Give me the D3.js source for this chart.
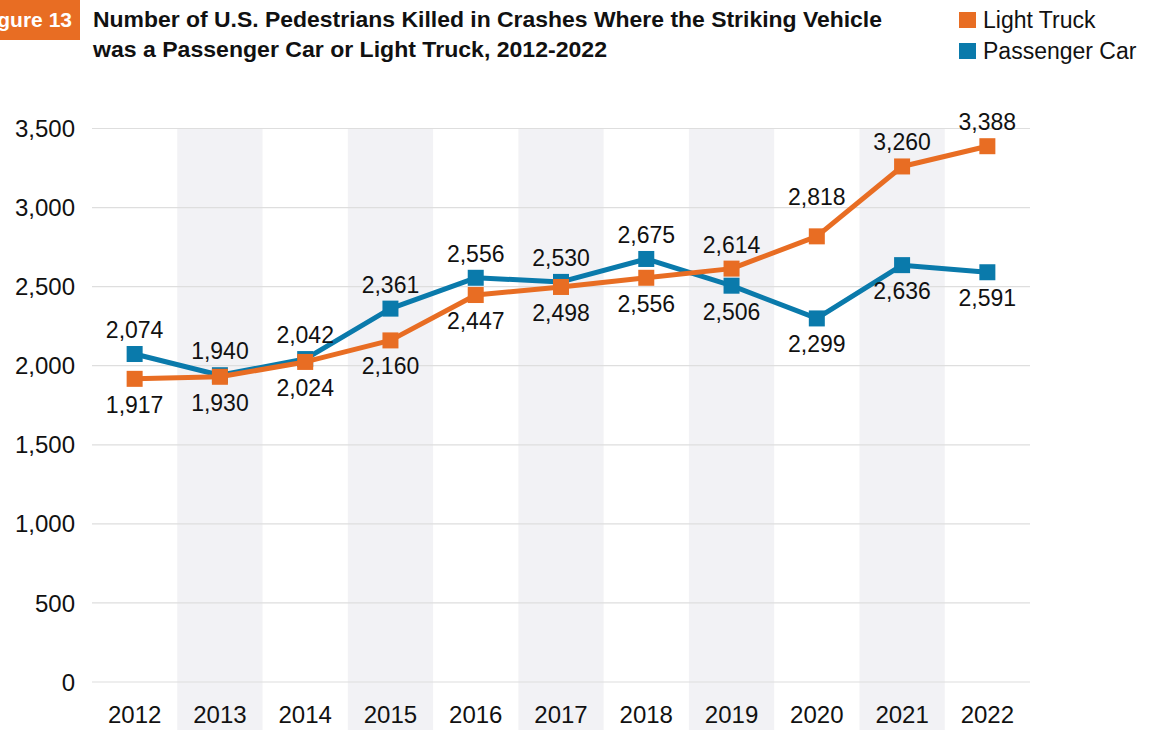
<!DOCTYPE html>
<html>
<head>
<meta charset="utf-8">
<script src="https://cdn.jsdelivr.net/npm/d3@7"></script>
<style>
  body { margin: 0; background: #fff; }
  text { font-family: "Liberation Sans", Arial, Helvetica, sans-serif; }
</style>
</head>
<body>
<div id="chart"></div>
<script>
// data
const years = ["2012", "2013", "2014", "2015", "2016", "2017", "2018", "2019", "2020", "2021", "2022"];
const lightTruck = [1917, 1930, 2024, 2160, 2447, 2498, 2556, 2614, 2818, 3260, 3388];
const passengerCar = [2074, 1940, 2042, 2361, 2556, 2530, 2675, 2506, 2299, 2636, 2591];
// which side of the point the value label sits on
const truckLabelSide = ["below", "below", "below", "below", "below", "below", "below", "above", "high", "above", "above"];
const carLabelSide = ["above", "above", "above", "above", "above", "above", "above", "below", "below", "below", "below"];
const yTicks = [0, 500, 1000, 1500, 2000, 2500, 3000, 3500];

const W = 1149, H = 730;
const margin = {top: 128.5, right: 119, bottom: 48, left: 92};
const width = W - margin.left - margin.right;
const height = H - margin.top - margin.bottom;

const orange = "#e86d23";
const blue = "#0a7aab";

const svg = d3.select("#chart").append("svg")
  .attr("width", W)
  .attr("height", H);

const x = d3.scaleBand()
  .domain(years)
  .range([margin.left, margin.left + width])
  .padding(0);

const y = d3.scaleLinear()
  .domain([0, 3500])
  .range([margin.top + height, margin.top]);

// alternating shaded columns
svg.append("g")
  .selectAll("rect")
  .data(years.filter((d, i) => i % 2 === 1))
  .join("rect")
    .attr("x", d => x(d))
    .attr("y", margin.top)
    .attr("width", x.bandwidth())
    .attr("height", H - margin.top)
    .attr("fill", "#f2f2f5");

// gridlines
svg.append("g")
  .selectAll("line")
  .data(yTicks)
  .join("line")
    .attr("x1", margin.left)
    .attr("x2", margin.left + width)
    .attr("y1", d => y(d))
    .attr("y2", d => y(d))
    .attr("stroke", "#dedede")
    .attr("stroke-width", 1.2);

// y axis labels
svg.append("g")
  .selectAll("text")
  .data(yTicks)
  .join("text")
    .attr("x", 75)
    .attr("y", d => y(d))
    .attr("dy", "0.36em")
    .attr("text-anchor", "end")
    .style("font-size", "24px")
    .attr("fill", "#111")
    .text(d => d3.format(",")(d));

// x axis labels
svg.append("g")
  .selectAll("text")
  .data(years)
  .join("text")
    .attr("x", d => x(d) + x.bandwidth() / 2)
    .attr("y", 723)
    .attr("text-anchor", "middle")
    .style("font-size", "24px")
    .attr("fill", "#111")
    .text(d => d);

const line = d3.line()
  .x((d, i) => x(years[i]) + x.bandwidth() / 2)
  .y(d => y(d));

function drawSeries(values, color) {
  const g = svg.append("g");
  g.append("path")
    .datum(values)
    .attr("d", line)
    .attr("fill", "none")
    .attr("stroke", color)
    .attr("stroke-width", 5)
    .attr("stroke-linejoin", "round");
  g.selectAll("rect")
    .data(values)
    .join("rect")
      .attr("x", (d, i) => x(years[i]) + x.bandwidth() / 2 - 8)
      .attr("y", d => y(d) - 8)
      .attr("width", 16)
      .attr("height", 16)
      .attr("fill", color);
}

const labelShift = {above: -16, high: -31, below: 34};

function drawLabels(values, sides) {
  svg.append("g")
    .selectAll("text")
    .data(values)
    .join("text")
      .attr("x", (d, i) => x(years[i]) + x.bandwidth() / 2)
      .attr("y", (d, i) => y(d) + labelShift[sides[i]])
      .attr("text-anchor", "middle")
      .style("font-size", "23px")
      .attr("fill", "#111")
      .text(d => d3.format(",")(d));
}

drawSeries(passengerCar, blue);
drawSeries(lightTruck, orange);
drawLabels(passengerCar, carLabelSide);
drawLabels(lightTruck, truckLabelSide);

// figure tag
svg.append("rect")
  .attr("x", 0).attr("y", 0)
  .attr("width", 80).attr("height", 40)
  .attr("fill", orange);
svg.append("text")
  .attr("x", 72).attr("y", 27)
  .attr("text-anchor", "end")
  .attr("fill", "#fff")
  .style("font-size", "21px")
  .style("font-weight", "bold")
  .text("Figure 13");

// title
const titleLines = [
  "Number of U.S. Pedestrians Killed in Crashes Where the Striking Vehicle",
  "was a Passenger Car or Light Truck, 2012-2022"
];
const titleWidths = [789, 514];
svg.append("g")
  .selectAll("text")
  .data(titleLines)
  .join("text")
    .attr("x", 93)
    .attr("y", (d, i) => 27 + i * 30)
    .attr("textLength", (d, i) => titleWidths[i])
    .attr("lengthAdjust", "spacingAndGlyphs")
    .style("font-size", "22px")
    .style("font-weight", "bold")
    .attr("fill", "#111")
    .text(d => d);

// legend
const legendItems = [
  {name: "Light Truck", color: orange},
  {name: "Passenger Car", color: blue}
];
const legend = svg.append("g")
  .selectAll("g")
  .data(legendItems)
  .join("g")
    .attr("transform", (d, i) => `translate(959, ${12 + i * 31})`);
legend.append("rect")
  .attr("width", 17).attr("height", 16)
  .attr("fill", d => d.color);
legend.append("text")
  .attr("x", 24).attr("y", 16)
  .style("font-size", "23px")
  .attr("fill", "#111")
  .text(d => d.name);
</script>
</body>
</html>
